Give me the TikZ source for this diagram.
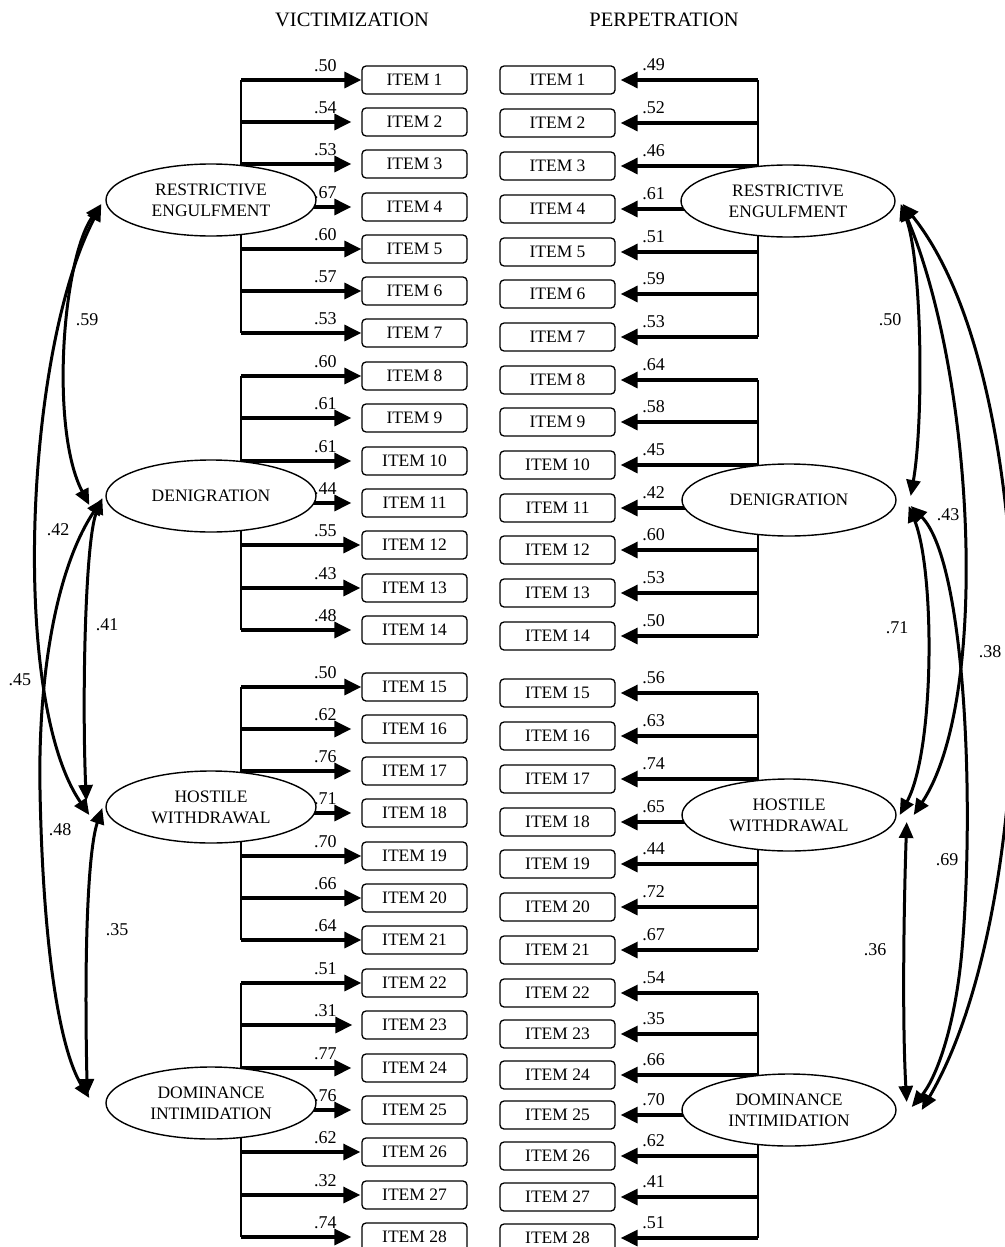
\documentclass[tikz,border=0pt]{standalone}
\usepackage{fontspec}
\setmainfont{Liberation Serif}
\usetikzlibrary{arrows.meta,shapes.geometric,backgrounds}
\begin{document}
\begin{tikzpicture}[x=1pt,y=-1pt,
  itembox/.style={draw,line width=1.3pt,rounded corners=4pt,minimum height=28pt,inner sep=0pt,font=\fontsize{17.5}{20}\selectfont},
  litem/.style={itembox,minimum width=105pt},
  ritem/.style={itembox,minimum width=115pt},
  factor/.style={draw,ellipse,line width=1.4pt,fill=white,minimum height=72pt,inner sep=0pt,align=center,font=\fontsize{17.5}{21}\selectfont},
  lfactor/.style={factor,minimum width=210pt},
  rfactor/.style={factor,minimum width=214pt},
  trunk/.style={line width=2pt},
  load/.style={line width=3.2pt,-{Triangle[length=17pt,width=16pt]}},
  cov/.style={line width=3pt,{Triangle[length=16pt,width=14pt]}-{Triangle[length=16pt,width=14pt]}},
  val/.style={font=\fontsize{18}{20}\selectfont,inner sep=0pt},
  head/.style={font=\fontsize{20.5}{22}\selectfont,inner sep=0pt}
]
\useasboundingbox (0,0) rectangle (1004,1247);

\node[head] (hv) at (352,20) {VICTIMIZATION};
\node[head] (hp) at (664,20) {PERPETRATION};

% item boxes
\foreach \i/\y in {1/80,2/122,3/164,4/207,5/249,6/291,7/333,8/376,9/418,10/461,11/503,12/545,13/588,14/630,15/687,16/729,17/771,18/813,19/856,20/898,21/940,22/983,23/1025,24/1068,25/1110,26/1152,27/1195,28/1237}
  \node[litem] (L\i) at (414.5,\y) {ITEM \i};
\foreach \i/\y in {1/80,2/123,3/166,4/209,5/252,6/294,7/337,8/380,9/422,10/465,11/508,12/550,13/593,14/636,15/693,16/736,17/779,18/822,19/864,20/907,21/950,22/993,23/1034,24/1075,25/1115,26/1156,27/1197,28/1238}
  \node[ritem] (R\i) at (557.5,\y) {ITEM \i};

% factors
\node[lfactor] (LRE) at (211,200) {RESTRICTIVE\\ENGULFMENT};
\node[lfactor] (LDEN) at (211,496) {DENIGRATION};
\node[lfactor] (LHW) at (211,807) {HOSTILE\\WITHDRAWAL};
\node[lfactor] (LDI) at (211,1103) {DOMINANCE\\INTIMIDATION};
\node[rfactor] (RRE) at (788,201) {RESTRICTIVE\\ENGULFMENT};
\node[rfactor] (RDEN) at (789,500) {DENIGRATION};
\node[rfactor] (RHW) at (789,815) {HOSTILE\\WITHDRAWAL};
\node[rfactor] (RDI) at (789,1110) {DOMINANCE\\INTIMIDATION};

\coordinate (lx) at (241,0);
\coordinate (rx) at (758,0);

\begin{pgfonlayer}{background}
  % trunks
  \draw[trunk] (lx |- L1.west) -- (lx |- L7.west);
  \draw[trunk] (lx |- L8.west) -- (lx |- L14.west);
  \draw[trunk] (lx |- L15.west) -- (lx |- L21.west);
  \draw[trunk] (lx |- L22.west) -- (lx |- L28.west);
  \draw[trunk] (rx |- R1.east) -- (rx |- R7.east);
  \draw[trunk] (rx |- R8.east) -- (rx |- R14.east);
  \draw[trunk] (rx |- R15.east) -- (rx |- R21.east);
  \draw[trunk] (rx |- R22.east) -- (rx |- R28.east);
  % loadings
  \foreach \i/\g in {1/0,2/10,3/10,4/10,5/0,6/0,7/0,8/0,9/10,10/10,11/10,12/1,13/1,14/10,15/0,16/10,17/10,18/10,19/0,20/0,21/0,22/0,23/9,24/10,25/10,26/1,27/1,28/10}
    \draw[load] (lx |- L\i.west) -- ([xshift=-\g]L\i.west);
  \foreach \i in {1,...,28}
    \draw[load] (rx |- R\i.east) -- ([xshift=5]R\i.east);
\end{pgfonlayer}

% loading values
\foreach \i/\v in {1/.50,2/.54,3/.53,4/.67,5/.60,6/.57,7/.53,8/.60,9/.61,10/.61,11/.44,12/.55,13/.43,14/.48,15/.50,16/.62,17/.76,18/.71,19/.70,20/.66,21/.64,22/.51,23/.31,24/.77,25/.76,26/.62,27/.32,28/.74}
  \path (L\i.west) ++(-36,-14) node[val] (lv\i) {\v};
\foreach \i/\v in {1/.49,2/.52,3/.46,4/.61,5/.51,6/.59,7/.53,8/.64,9/.58,10/.45,11/.42,12/.60,13/.53,14/.50,15/.56,16/.63,17/.74,18/.65,19/.44,20/.72,21/.67,22/.54,23/.35,24/.66,25/.70,26/.62,27/.41,28/.51}
  \path (R\i.east) ++(38,-15) node[val] (rv\i) {\v};

% covariances, left
\draw[cov] ([shift={(-4,4)}]LRE.west) .. controls (62,260) and (50,430) .. ([shift={(-16,9)}]LDEN.west);
\draw[cov] ([shift={(-4,5)}]LRE.west) .. controls (25,350) and (10,700) .. ([shift={(-16,8)}]LHW.west);
\draw[cov] ([shift={(-3,2)}]LDEN.west) .. controls (85,540) and (82,700) .. ([shift={(-19,-6)}]LHW.west);
\draw[cov] ([shift={(-3,3)}]LDEN.west) .. controls (55,570) and (38,680) .. (40,790) .. controls (43,950) and (60,1050) .. ([shift={(-16,-5)}]LDI.west);
\draw[cov] ([shift={(-3,1)}]LHW.west) .. controls (88,850) and (84,950) .. ([shift={(-18,-8)}]LDI.west);

% covariances, right
\draw[cov] ([shift={(5,3)}]RRE.east) .. controls (922,260) and (924,420) .. ([shift={(14,-4)}]RDEN.east);
\draw[cov] ([shift={(6,4)}]RRE.east) .. controls (975,380) and (990,700) .. ([shift={(17,0)}]RHW.east);
\draw[cov] ([shift={(7,3)}]RRE.east) .. controls (1045,380) and (1045,900) .. ([shift={(25,0)}]RDI.east);
\draw[cov] ([shift={(12,6)}]RDEN.east) .. controls (935,570) and (935,750) .. ([shift={(3,0)}]RHW.east);
\draw[cov] ([shift={(14,6)}]RDEN.east) .. controls (965,560) and (975,800) .. (962,950) .. controls (955,1030) and (935,1080) .. ([shift={(15,-3)}]RDI.east);
\draw[cov] ([shift={(10,7)}]RHW.east) .. controls (904,900) and (902,1020) .. ([shift={(10,-8)}]RDI.east);

% covariance values
\node[val] (c1) at (87,320) {.59};
\node[val] (c2) at (58,530) {.42};
\node[val] (c3) at (107,625) {.41};
\node[val] (c4) at (20,680) {.45};
\node[val] (c5) at (60,830) {.48};
\node[val] (c6) at (117,930) {.35};
\node[val] (c7) at (890,320) {.50};
\node[val] (c8) at (948,515) {.43};
\node[val] (c9) at (897,628) {.71};
\node[val] (c10) at (990,652) {.38};
\node[val] (c11) at (947,860) {.69};
\node[val] (c12) at (875,950) {.36};
\end{tikzpicture}
\end{document}
